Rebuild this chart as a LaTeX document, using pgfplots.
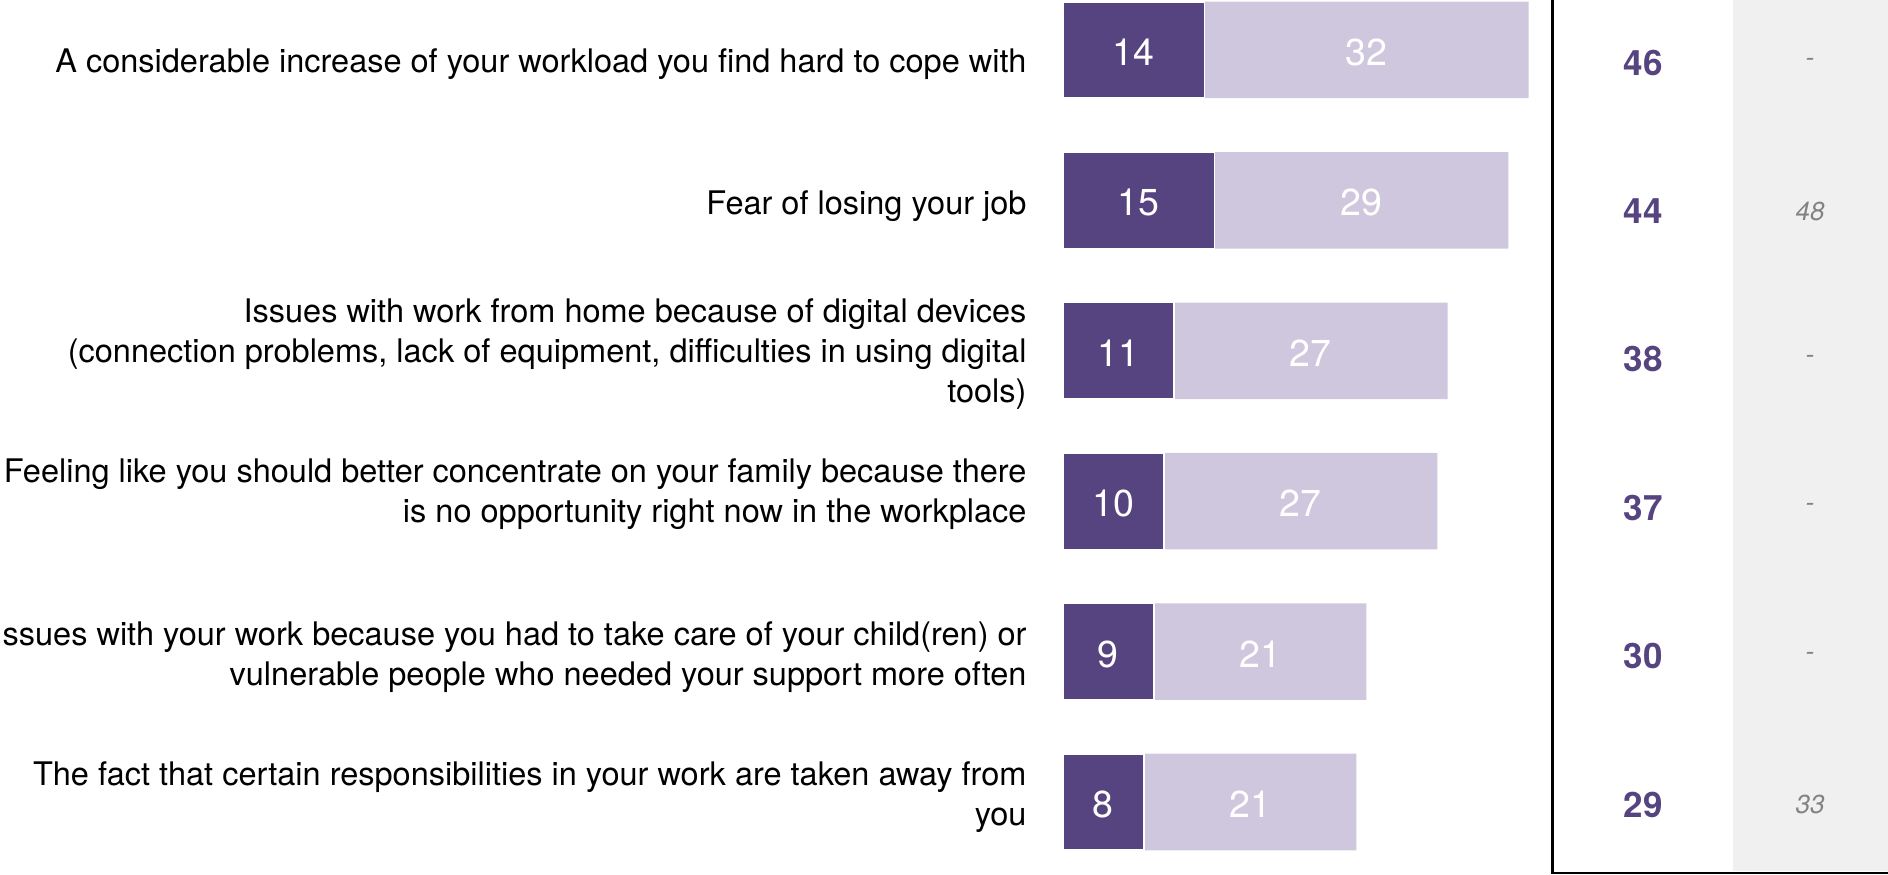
\documentclass[border=0pt]{standalone}
\usepackage{pgfplots}
\usepackage{pgfplotstable}
\pgfplotsset{compat=1.18}
\usepackage{fontspec}
\setmainfont{TeX Gyre Heros}
\definecolor{darkp}{RGB}{86,68,128}
\definecolor{lightp}{RGB}{207,199,222}
\definecolor{bgrey}{RGB}{240,240,240}
\definecolor{tgrey}{RGB}{130,130,130}
\pgfplotstableread{
idx dark light total prev
0 14 32 46 -
1 15 29 44 48
2 11 27 38 -
3 10 27 37 -
4 9 21 30 -
5 8 21 29 33
}\datatable
\begin{document}
\begin{tikzpicture}
\useasboundingbox (0,0) rectangle (755.2pt,350pt);
\begin{axis}[
  at={(0,0)}, anchor=south west,
  scale only axis, width=755.2pt, height=350pt,
  xmin=-104.94, xmax=81.5,
  ymin=-0.3324, ymax=5.4854,
  y dir=reverse,
  axis line style={draw=none},
  major tick length=0pt,
  xtick=\empty,
  ytick={0.072,1.016,2,2.932,4.016,4.944},
  yticklabels={
    {A considerable increase of your workload you find hard to cope with},
    {Fear of losing your job},
    {Issues with work from home because of digital devices\\(connection problems, lack of equipment, difficulties in using digital\\tools)},
    {Feeling like you should better concentrate on your family because there\\is no opportunity right now in the workplace},
    {Issues with your work because you had to take care of your child(ren) or\\vulnerable people who needed your support more often},
    {The fact that certain responsibilities in your work are taken away from\\you}
  },
  yticklabel style={anchor=east, align=right, inner sep=0pt, xshift=410.8pt, yshift=-1.4pt,
    font=\fontsize{13}{15.9}\selectfont},
  /pgf/number format/assume math mode=true,
]
% grey column
\addplot[fill=bgrey, draw=none] coordinates {(66.24,-1) (90,-1) (90,5.46) (66.24,5.46)} -- cycle;
% box line
\addplot[black, line width=1pt, mark=none] coordinates {(48.37,-1) (48.37,5.472) (90,5.472)};
% bars
\addplot[xbar, bar width=38.6pt, fill=lightp, draw=none] table[x=total, y=idx] {\datatable};
\addplot[xbar, bar width=38.6pt, fill=darkp, draw=white, line width=0.7pt] table[x=dark, y=idx] {\datatable};
% labels
\addplot[draw=none, mark=none,
  nodes near coords, point meta=explicit,
  every node near coord/.style={anchor=center, yshift=-1pt, text=white, font=\fontsize{15}{18}\selectfont}]
  table[x expr=\thisrow{dark}/2, y=idx, meta=dark] {\datatable};
\addplot[draw=none, mark=none,
  nodes near coords, point meta=explicit,
  every node near coord/.style={anchor=center, yshift=-1pt, text=white, font=\fontsize{15}{18}\selectfont}]
  table[x expr=\thisrow{dark}+\thisrow{light}/2, y=idx, meta=light] {\datatable};
\addplot[draw=none, mark=none,
  nodes near coords, point meta=explicit,
  every node near coord/.style={anchor=center, yshift=-1pt, text=darkp, font=\fontsize{14}{16}\selectfont\bfseries}]
  table[x expr=57.35, y expr=0.068+0.9864*\thisrow{idx}, meta=total] {\datatable};
\addplot[draw=none, mark=none,
  nodes near coords, point meta=explicit symbolic,
  every node near coord/.style={anchor=center, yshift=-1pt, text=tgrey, font=\fontsize{10.4}{12}\selectfont\itshape}]
  table[x expr=73.8, y expr=0.068+0.9864*\thisrow{idx}, meta=prev] {\datatable};
\end{axis}
\end{tikzpicture}
\end{document}
